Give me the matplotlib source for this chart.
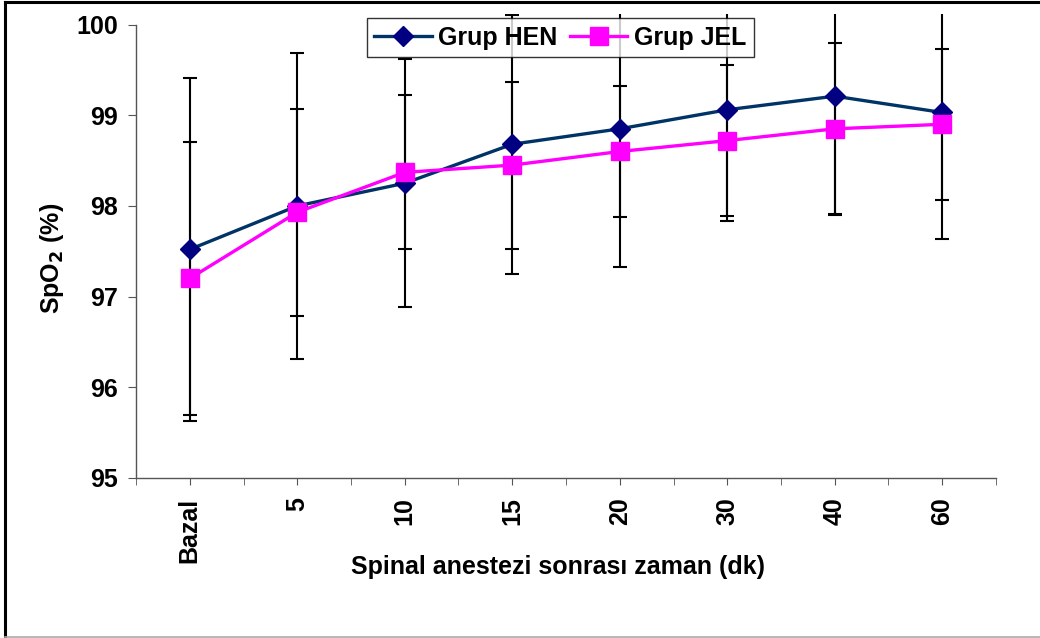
import matplotlib
matplotlib.use("Agg")
import matplotlib.pyplot as plt
from matplotlib.lines import Line2D

# time points after spinal anaesthesia
categories = ["Bazal", "5", "10", "15", "20", "30", "40", "60"]

# SpO2 means and SDs
hen_mean = [97.52, 98.00, 98.25, 98.68, 98.85, 99.06, 99.21, 99.03]
hen_sd = [1.89, 1.69, 1.37, 1.43, 1.52, 1.23, 1.30, 1.40]
jel_mean = [97.20, 97.93, 98.37, 98.45, 98.60, 98.72, 98.85, 98.90]
jel_sd = [1.51, 1.14, 0.85, 0.92, 0.72, 0.83, 0.95, 0.83]

y_ticks = [95, 96, 97, 98, 99, 100]

plt.rcParams["font.family"] = ["Liberation Sans", "DejaVu Sans"]
plt.rcParams["font.weight"] = "bold"
FS = 18

fig = plt.figure(figsize=(10.4, 6.38), dpi=100)
ax = fig.add_axes([136 / 1040, (638 - 478) / 638, 860 / 1040, (478 - 14) / 638])

x = list(range(len(categories)))

# error bars first, then the series on top
ax.errorbar(x, hen_mean, yerr=hen_sd, fmt="none", ecolor="black",
            elinewidth=1.5, capsize=5, capthick=1.5, zorder=2)
ax.errorbar(x, jel_mean, yerr=jel_sd, fmt="none", ecolor="black",
            elinewidth=1.5, capsize=5, capthick=1.5, zorder=2)

ax.plot(x, hen_mean, color="#003366", lw=2.4, marker="D", ms=10,
        markerfacecolor="#000080", markeredgecolor="#000080", zorder=3,
        label="Grup HEN")
ax.plot(x, jel_mean, color="#FF00FF", lw=2.4, marker="s", ms=13,
        markerfacecolor="#FF00FF", markeredgecolor="#FF00FF", zorder=4,
        label="Grup JEL")

ax.set_xlim(-0.5, len(categories) - 0.5)
ax.set_ylim(95, 100.116)

for side in ["top", "right"]:
    ax.spines[side].set_visible(False)
for side in ["left", "bottom"]:
    ax.spines[side].set_color("#555555")
    ax.spines[side].set_linewidth(1.0)
ax.spines["left"].set_bounds(95, 100)

ax.set_yticks(y_ticks)
ax.set_yticklabels([str(v) for v in y_ticks], fontsize=FS, fontweight="bold")
ax.set_xticks(x)
ax.set_xticklabels(categories, rotation=90, fontsize=FS, fontweight="bold")
ax.set_xticks([i + 0.5 for i in range(-1, len(categories))], minor=True)
ax.tick_params(axis="y", direction="out", length=6, color="#555555", pad=7)
ax.tick_params(axis="x", which="both", direction="out", length=5,
               color="#555555", pad=9)

fig.text(558 / 1040, 1 - 567 / 638, "Spinal anestezi sonrası zaman (dk)",
         fontsize=FS, fontweight="bold", ha="center", va="center")
fig.text(52 / 1040, 1 - 258 / 638, "SpO$_\\mathbf{2}$ (%)", fontsize=FS,
         fontweight="bold", ha="center", va="center", rotation=90)

leg = ax.legend(loc="upper left", bbox_to_anchor=(0.2686, 0.991), ncol=2,
                fontsize=FS, frameon=True, fancybox=False, handlelength=2.3,
                handletextpad=0.25, columnspacing=0.5, borderpad=0.3,
                borderaxespad=0)
leg.get_frame().set_edgecolor("black")
leg.get_frame().set_linewidth(1.0)
for t in leg.get_texts():
    t.set_fontweight("bold")

# outer frame, as in the screenshot
fig.add_artist(Line2D([5 / 1040, 1], [1 - 2 / 638, 1 - 2 / 638],
                      transform=fig.transFigure, color="black", lw=2.2))
fig.add_artist(Line2D([5 / 1040, 5 / 1040], [1 / 638, 1 - 2 / 638],
                      transform=fig.transFigure, color="black", lw=2.2))
fig.add_artist(Line2D([5 / 1040, 1], [1 / 638, 1 / 638],
                      transform=fig.transFigure, color="#aaaaaa", lw=1.2))

fig.savefig("out.png", dpi=100)
